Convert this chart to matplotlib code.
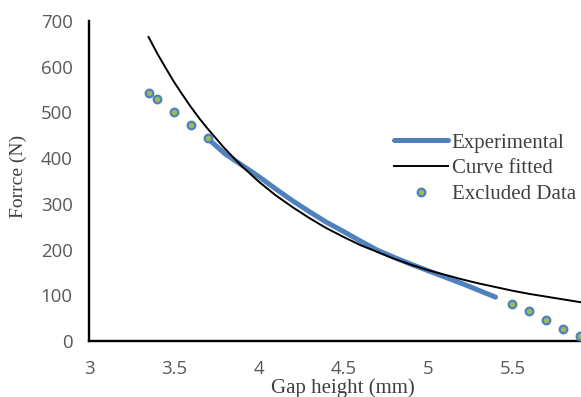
import matplotlib
matplotlib.use("Agg")
import matplotlib.pyplot as plt

# Measured force vs gap height
exp_gap = [3.7, 3.8, 3.9, 4.0, 4.1, 4.2, 4.3, 4.4, 4.5, 4.6, 4.7, 4.8, 4.9,
           5.0, 5.1, 5.2, 5.3, 5.4]
exp_force = [443, 410, 385, 360, 333, 307, 283, 260, 240, 219, 199, 183, 168,
             154, 140, 126, 111, 96]

# Fitted curve
fit_gap = [3.35, 3.4, 3.45, 3.5, 3.55, 3.6, 3.65, 3.7, 3.8, 3.9, 4.0, 4.1, 4.2,
           4.3, 4.4, 4.5, 4.6, 4.7, 4.8, 4.9, 5.0, 5.1, 5.2, 5.3, 5.4, 5.5,
           5.6, 5.7, 5.8, 5.9, 6.0]
fit_force = [665, 630, 598, 567, 539, 512, 487, 464, 421, 383, 349, 319, 293,
             269, 247, 228, 210, 195, 180, 167, 155, 145, 135, 126, 118, 110,
             103, 97, 91, 85, 80]

# Points left out of the fit
excl_gap = [3.35, 3.4, 3.5, 3.6, 3.7, 5.5, 5.6, 5.7, 5.8, 5.9]
excl_force = [543, 529, 501, 472, 443, 81, 66, 47, 26, 10]

x_ticks = [3, 3.5, 4, 4.5, 5, 5.5]
x_tick_labels = ["3", "3.5", "4", "4.5", "5", "5.5"]
y_ticks = [0, 100, 200, 300, 400, 500, 600, 700]

W, H = 581, 397
fig = plt.figure(figsize=(W / 100, H / 100), dpi=100)
ax = fig.add_axes([89.3 / W, (H - 341) / H, (597.1 - 89.3) / W, (341 - 21) / H])

blue = "#4F81BD"
green = "#9BBB59"

ax.plot(exp_gap, exp_force, color=blue, lw=3.6, solid_capstyle="round",
        label="Experimental", zorder=2)
ax.plot(fit_gap, fit_force, color="black", lw=1.4, label="Curve fitted", zorder=3)
ax.plot(excl_gap, excl_force, ls="none", marker="o", ms=5.5, mfc=green, mec=blue,
        mew=1.6, label="Excluded Data", zorder=4, clip_on=False)

ax.set_xlim(3, 6)
ax.set_ylim(0, 700)
ax.set_xticks(x_ticks)
ax.set_xticklabels(x_tick_labels)
ax.set_yticks(y_ticks)

for side in ("top", "right"):
    ax.spines[side].set_visible(False)
for side in ("left", "bottom"):
    ax.spines[side].set_linewidth(1.7)
    ax.spines[side].set_color("black")

ax.tick_params(length=0, labelsize=13.4, labelcolor="#595959")
ax.tick_params(axis="x", pad=14)
ax.tick_params(axis="y", pad=12)
for lab in ax.get_xticklabels() + ax.get_yticklabels():
    lab.set_fontfamily("Open Sans")

serif = "Liberation Serif"
fig.text(343 / W, 1 - 388 / H, "Gap height (mm)", ha="center", va="center",
         fontsize=15, family=serif, color="#404040")
fig.text(18 / W, 1 - 176 / H, "Forrce (N)", ha="center", va="center",
         rotation=90, fontsize=14, family=serif, color="#404040")

leg = ax.legend(loc="upper left", bbox_to_anchor=(394 / W, 1 - 133 / H),
                bbox_transform=fig.transFigure, frameon=False,
                prop={"family": serif, "size": 15}, handlelength=2.57,
                handletextpad=0.2, labelspacing=0.29, borderpad=0,
                borderaxespad=0)
for t in leg.get_texts():
    t.set_color("#404040")

fig.savefig("out.png", dpi=100)
